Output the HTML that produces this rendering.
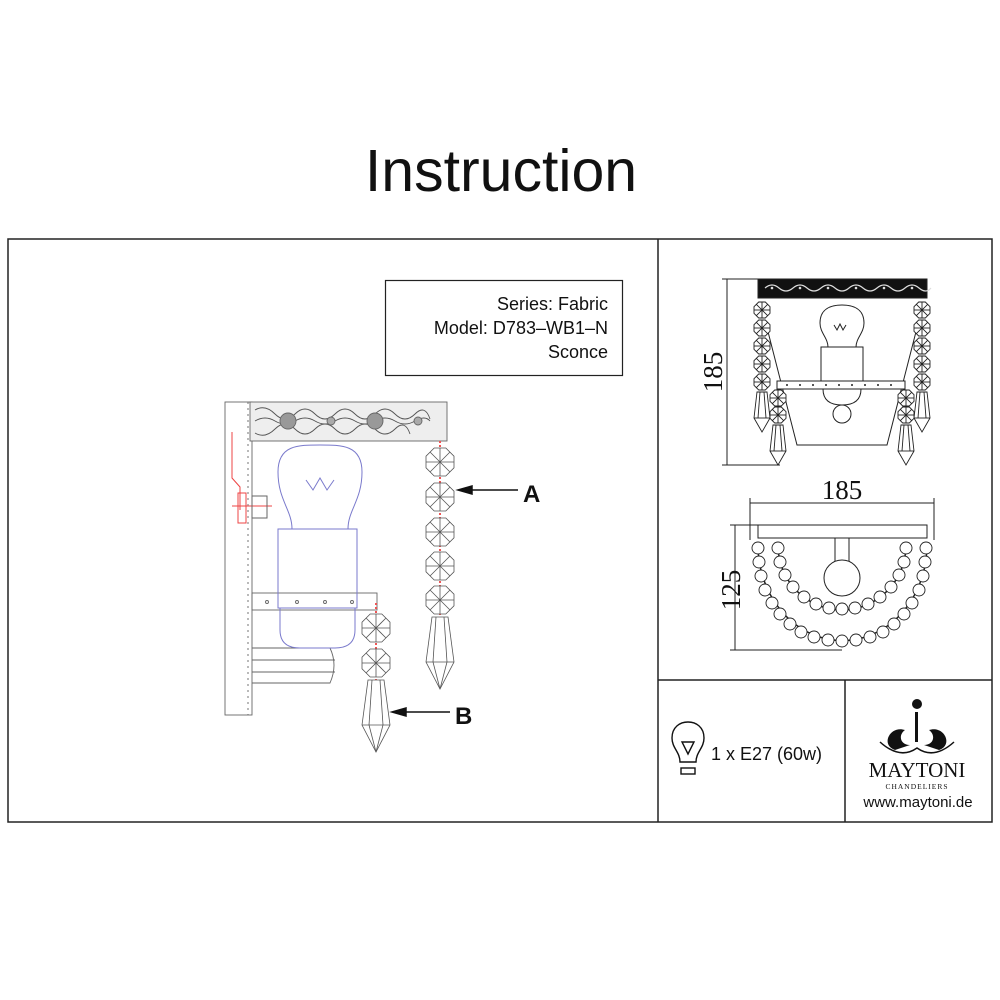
<!DOCTYPE html>
<html><head><meta charset="utf-8"><style>
html,body{margin:0;padding:0;background:#fff;}
svg{display:block;}
text{font-family:"Liberation Sans",sans-serif;fill:#111;}
.serif{font-family:"Liberation Serif",serif;}
</style></head><body>
<svg width="1000" height="1000" viewBox="0 0 1000 1000" xmlns="http://www.w3.org/2000/svg">
<defs>
  <g id="oct" fill="#fff" stroke="#555" stroke-width="0.8">
    <polygon points="-5.8,-14 5.8,-14 14,-5.8 14,5.8 5.8,14 -5.8,14 -14,5.8 -14,-5.8"/>
    <line x1="-14" y1="0" x2="14" y2="0"/><line x1="0" y1="-14" x2="0" y2="14"/>
    <line x1="-10" y1="-10" x2="10" y2="10"/><line x1="10" y1="-10" x2="-10" y2="10"/>
  </g>
  <g id="pend" fill="#fff" stroke="#555" stroke-width="0.8">
    <polygon points="-8,0 8,0 14,45 0,72 -14,45"/>
    <line x1="-4" y1="0" x2="-7" y2="45"/><line x1="4" y1="0" x2="7" y2="45"/>
    <line x1="-14" y1="45" x2="14" y2="45"/><line x1="-7" y1="45" x2="0" y2="72"/><line x1="7" y1="45" x2="0" y2="72"/>
  </g>
  <g id="soct" fill="#fff" stroke="#222" stroke-width="0.9">
    <polygon points="-3.3,-8 3.3,-8 8,-3.3 8,3.3 3.3,8 -3.3,8 -8,3.3 -8,-3.3"/>
    <line x1="-8" y1="0" x2="8" y2="0"/><line x1="0" y1="-8" x2="0" y2="8"/>
    <line x1="-5.7" y1="-5.7" x2="5.7" y2="5.7"/><line x1="5.7" y1="-5.7" x2="-5.7" y2="5.7"/>
  </g>
  <g id="spend" fill="#fff" stroke="#222" stroke-width="0.9">
    <polygon points="-5,0 5,0 8,26 0,40 -8,26"/>
    <line x1="-2" y1="0" x2="-4" y2="26"/><line x1="2" y1="0" x2="4" y2="26"/><line x1="-8" y1="26" x2="8" y2="26"/>
  </g>
  <circle id="bead" r="6" fill="#fff" stroke="#222" stroke-width="0.9"/>
</defs>

<text x="501" y="191" font-size="59" text-anchor="middle">Instruction</text>

<g fill="none" stroke="#222" stroke-width="1.5">
  <rect x="8" y="239" width="984" height="583"/>
  <line x1="658" y1="239" x2="658" y2="822"/>
  <line x1="658" y1="680" x2="992" y2="680"/>
  <line x1="845" y1="680" x2="845" y2="822"/>
  <rect x="385.5" y="280.5" width="237" height="95" stroke-width="1.2"/>
</g>
<text x="608" y="310" font-size="18" text-anchor="end">Series: Fabric</text>
<text x="608" y="334" font-size="18" text-anchor="end">Model: D783–WB1–N</text>
<text x="608" y="358" font-size="18" text-anchor="end">Sconce</text>

<!-- left diagram -->
<g stroke="#666" stroke-width="0.9" fill="none">
  <rect x="225" y="402" width="27" height="313" fill="#fff"/>
  <line x1="248" y1="402" x2="248" y2="715" stroke-dasharray="2,4"/>
  <rect x="250" y="402" width="197" height="39" fill="#eee"/>
  <path d="M255 410 q10 -6 20 4 q10 10 20 0 q10 -10 20 0 q10 10 20 0 q10 -10 20 0 q10 10 20 0 q10 -10 20 0 q10 10 20 0 q10 -10 15 5 M255 433 q10 6 20 -4 q10 -10 20 0 q10 10 20 0 q10 -10 20 0 q10 10 20 0 q10 -10 20 0 q10 10 20 0 q10 -10 15 5 M255 421 q10 -6 20 0 q10 6 20 0 q10 -6 20 0 q10 6 20 0 q10 -6 20 0 q10 6 20 0 q10 -6 20 0 q10 6 20 0 q10 -6 15 0" stroke="#555"/>
  <circle cx="288" cy="421" r="8" fill="#999"/><circle cx="375" cy="421" r="8" fill="#999"/>
  <circle cx="331" cy="421" r="4" fill="#aaa"/><circle cx="418" cy="421" r="4" fill="#aaa"/>
  <rect x="252" y="593" width="125" height="17"/>
  <circle cx="267" cy="602" r="1.5"/><circle cx="297" cy="602" r="1.5"/><circle cx="325" cy="602" r="1.5"/><circle cx="352" cy="602" r="1.5"/>
  <path d="M252 648 H330 Q338 665 330 683 H252 M252 660 H335 M252 672 H335"/>
</g>
<g stroke="#e44" stroke-width="1" fill="none">
  <path d="M232 432 V478 L240 487 V510"/>
  <rect x="238" y="493" width="8" height="30"/>
  <line x1="232" y1="506" x2="272" y2="506"/>
</g>
<rect x="252" y="496" width="15" height="22" fill="none" stroke="#666"/>
<g stroke="#7a7acc" stroke-width="1" fill="none">
  <path d="M292 529 C292 510 278 500 278 472 C278 445 298 445 320 445 C342 445 362 445 362 472 C362 500 348 510 348 529"/>
  <path d="M306 480 l7 10 l7 -12 l7 12 l7 -10"/>
  <rect x="278" y="529" width="79" height="79"/>
  <path d="M280 608 V630 Q280 648 300 648 H335 Q355 648 355 630 V608"/>
</g>
<line x1="440" y1="441" x2="440" y2="617" stroke="#e55" stroke-width="2" stroke-dasharray="2,2"/>
<use href="#oct" x="440" y="462"/><use href="#oct" x="440" y="497"/><use href="#oct" x="440" y="532"/><use href="#oct" x="440" y="566"/><use href="#oct" x="440" y="600"/>
<use href="#pend" x="440" y="617"/>
<line x1="376" y1="603" x2="376" y2="682" stroke="#e55" stroke-width="2" stroke-dasharray="2,2"/>
<use href="#oct" x="376" y="628"/><use href="#oct" x="376" y="663"/>
<use href="#pend" x="376" y="680"/>
<g stroke="#111" stroke-width="1.5" fill="#111">
  <line x1="470" y1="490" x2="518" y2="490"/><polygon points="458,490 472,486 472,494"/>
  <line x1="405" y1="712" x2="450" y2="712"/><polygon points="392,712 406,708 406,716"/>
</g>
<text x="523" y="502" font-size="24" font-weight="bold">A</text>
<text x="455" y="724" font-size="24" font-weight="bold">B</text>

<!-- top right front view -->
<g stroke="#222" stroke-width="1" fill="none">
  <line x1="727" y1="279" x2="727" y2="465"/>
  <line x1="722" y1="279" x2="758" y2="279"/><line x1="722" y1="465" x2="780" y2="465"/>
  <rect x="758" y="279" width="169" height="19" fill="#111"/>
  <path d="M765 288 q7 -6 14 0 q7 6 14 0 q7 -6 14 0 q7 6 14 0 q7 -6 14 0 q7 6 14 0 q7 -6 14 0 q7 6 14 0 q7 -6 14 0 q7 6 14 0 q7 -6 14 0 q7 6 12 0" stroke="#ddd" stroke-width="1.2"/>
  <path d="M765 320 L797 445 H887 L919 320"/>
  <rect x="777" y="381" width="128" height="8" fill="#fff"/>
  <path d="M828 347 C828 338 820 333 820 323 C820 308 832 305 842 305 C852 305 864 308 864 323 C864 333 856 338 856 347"/>
  <path d="M834 325 l3 5 l3 -6 l3 6 l3 -5"/>
  <rect x="821" y="347" width="42" height="34" fill="#fff"/>
  <path d="M823 389 Q823 405 842 405 Q861 405 861 389"/>
  <circle cx="842" cy="414" r="9" fill="#fff"/>
</g>
<g fill="#ddd"><circle cx="772" cy="288" r="1.3"/><circle cx="800" cy="288" r="1.3"/><circle cx="828" cy="288" r="1.3"/><circle cx="856" cy="288" r="1.3"/><circle cx="884" cy="288" r="1.3"/><circle cx="912" cy="288" r="1.3"/></g>
<g fill="#222"><circle cx="787" cy="385" r="1"/><circle cx="800" cy="385" r="1"/><circle cx="813" cy="385" r="1"/><circle cx="826" cy="385" r="1"/><circle cx="839" cy="385" r="1"/><circle cx="852" cy="385" r="1"/><circle cx="865" cy="385" r="1"/><circle cx="878" cy="385" r="1"/><circle cx="891" cy="385" r="1"/></g>
<use href="#soct" x="762" y="310"/><use href="#soct" x="762" y="328"/><use href="#soct" x="762" y="346"/><use href="#soct" x="762" y="364"/><use href="#soct" x="762" y="382"/><use href="#spend" x="762" y="392"/>
<use href="#soct" x="922" y="310"/><use href="#soct" x="922" y="328"/><use href="#soct" x="922" y="346"/><use href="#soct" x="922" y="364"/><use href="#soct" x="922" y="382"/><use href="#spend" x="922" y="392"/>
<use href="#soct" x="778" y="398"/><use href="#soct" x="778" y="415"/><use href="#spend" x="778" y="425"/>
<use href="#soct" x="906" y="398"/><use href="#soct" x="906" y="415"/><use href="#spend" x="906" y="425"/>
<text class="serif" x="0" y="0" font-size="27" text-anchor="middle" transform="translate(722,372) rotate(-90)">185</text>

<!-- bottom right top view -->
<g stroke="#222" stroke-width="1" fill="none">
  <line x1="750" y1="503" x2="934" y2="503"/>
  <line x1="750" y1="498" x2="750" y2="540"/><line x1="934" y1="498" x2="934" y2="540"/>
  <line x1="735" y1="525" x2="735" y2="650"/>
  <line x1="730" y1="525" x2="758" y2="525"/><line x1="730" y1="650" x2="842" y2="650"/>
  <rect x="758" y="525" width="169" height="13" fill="#fff"/>
  <rect x="835" y="538" width="14" height="24"/>
  <circle cx="842" cy="578" r="18" fill="#fff"/>
  <path d="M758 545 A84 95 0 0 0 927 545" stroke-width="1.5"/>
  <path d="M778 545 A64 65 0 0 0 906 545" stroke-width="1.5"/>
</g>
<g>
  <use href="#bead" x="758" y="548"/><use href="#bead" x="759" y="562"/><use href="#bead" x="761" y="576"/><use href="#bead" x="765" y="590"/><use href="#bead" x="772" y="603"/><use href="#bead" x="780" y="614"/><use href="#bead" x="790" y="624"/><use href="#bead" x="801" y="632"/><use href="#bead" x="814" y="637"/><use href="#bead" x="828" y="640"/><use href="#bead" x="842" y="641"/><use href="#bead" x="856" y="640"/><use href="#bead" x="870" y="637"/><use href="#bead" x="883" y="632"/><use href="#bead" x="894" y="624"/><use href="#bead" x="904" y="614"/><use href="#bead" x="912" y="603"/><use href="#bead" x="919" y="590"/><use href="#bead" x="923" y="576"/><use href="#bead" x="925" y="562"/><use href="#bead" x="926" y="548"/>
  <use href="#bead" x="778" y="548"/><use href="#bead" x="780" y="562"/><use href="#bead" x="785" y="575"/><use href="#bead" x="793" y="587"/><use href="#bead" x="804" y="597"/><use href="#bead" x="816" y="604"/><use href="#bead" x="829" y="608"/><use href="#bead" x="842" y="609"/><use href="#bead" x="855" y="608"/><use href="#bead" x="868" y="604"/><use href="#bead" x="880" y="597"/><use href="#bead" x="891" y="587"/><use href="#bead" x="899" y="575"/><use href="#bead" x="904" y="562"/><use href="#bead" x="906" y="548"/>
</g>
<text class="serif" x="842" y="499" font-size="27" text-anchor="middle">185</text>
<text class="serif" x="0" y="0" font-size="27" text-anchor="middle" transform="translate(740,590) rotate(-90)">125</text>

<g stroke="#111" stroke-width="1.4" fill="none">
  <path d="M680 762 C680 752 672 748 672 738 C672 727 680 722 688 722 C696 722 704 727 704 738 C704 748 696 752 696 762 Z"/>
  <polygon points="682,742 694,742 688,754"/>
  <rect x="681" y="768" width="14" height="6"/>
</g>
<text x="711" y="760" font-size="18">1 x E27 (60w)</text>

<g fill="#111">
  <rect x="915" y="712" width="3" height="30"/>
  <circle cx="917" cy="704" r="5"/>
  <path d="M895 750 C880 745 890 725 905 730 C898 735 900 745 910 745 Z"/>
  <path d="M939 750 C954 745 944 725 929 730 C936 735 934 745 924 745 Z"/>
  <path d="M880 742 Q900 760 917 748 Q934 760 954 742" fill="none" stroke="#111" stroke-width="1.5"/>
</g>
<text class="serif" x="917" y="777" font-size="21" text-anchor="middle">MAYTONI</text>
<text class="serif" x="917" y="789" font-size="7.5" text-anchor="middle" letter-spacing="1">CHANDELIERS</text>
<text x="918" y="807" font-size="15" text-anchor="middle">www.maytoni.de</text>
</svg>
</body></html>
